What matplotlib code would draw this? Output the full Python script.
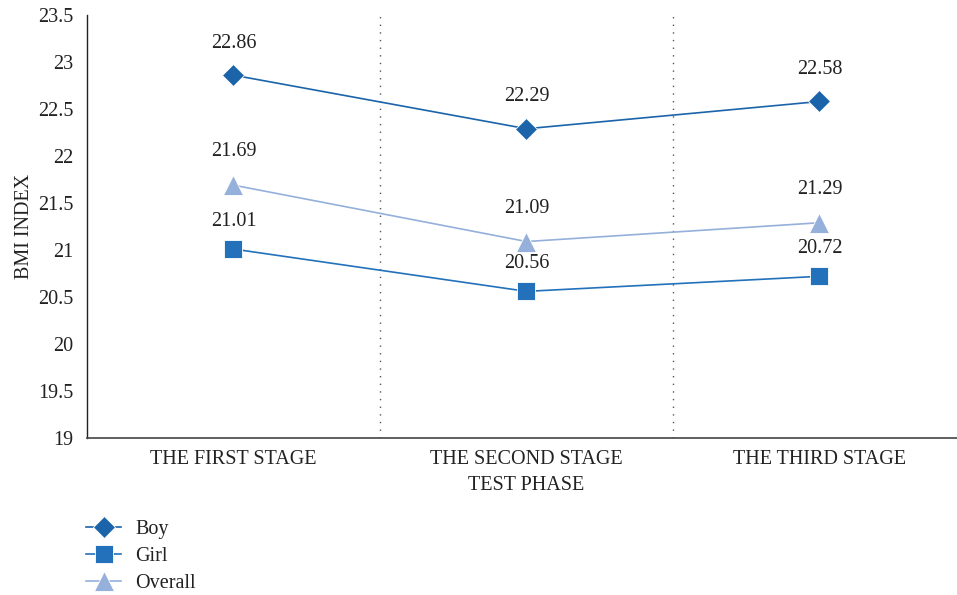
"""
BMI index of boys, girls and overall across the three test stages.
"""

import matplotlib.pyplot as plt
from matplotlib.lines import Line2D

stages = ["THE FIRST STAGE", "THE SECOND STAGE", "THE THIRD STAGE"]
boy = [22.86, 22.29, 22.58]
girl = [21.01, 20.56, 20.72]
overall = [21.69, 21.09, 21.29]

y_ticks = [19, 19.5, 20, 20.5, 21, 21.5, 22, 22.5, 23, 23.5]
y_tick_labels = ["19", "19.5", "20", "20.5", "21", "21.5", "22", "22.5", "23", "23.5"]


def main():
    plt.rcParams["font.family"] = ["Liberation Serif", "DejaVu Serif"]
    fs = 14.5

    fig = plt.figure(figsize=(9.57, 5.95), dpi=100)
    ax = fig.add_axes([87 / 957, 1 - 438 / 595, (966 - 87) / 957, (438 - 15) / 595])

    # name, values, colour, marker, marker size, label offset (pt)
    series = [
        ("Boy", boy, "#1b64aa", "D", 11, 23),
        ("Girl", girl, "#2371bb", "s", 13, 20),
        ("Overall", overall, "#95b0da", "^", 14, 24),
    ]
    x = list(range(len(stages)))
    handles = []
    for name, values, color, marker, size, off in series:
        ax.plot(x, values, color=color, linewidth=1.2, marker=marker,
                markersize=size, markeredgecolor="white", markeredgewidth=0.6,
                zorder=3)
        for xi, v in zip(x, values):
            ax.annotate(f"{v:.2f}", (xi, v), xytext=(0, off), textcoords="offset points",
                        ha="center", va="center", fontsize=fs, color="#222222")
        handles.append(Line2D([0], [0], color=color, linewidth=1.2, marker=marker,
                              markersize=size, markeredgecolor="white",
                              markeredgewidth=0.6, label=name))

    # dotted separators between stages
    for sep in [0.5, 1.5]:
        ax.axvline(sep, ymin=0, ymax=1, color="#555555", linestyle=(0, (1, 4.5)),
                   linewidth=1.0)

    ax.set_xlim(-0.5, 2.5)
    ax.set_ylim(19, 23.5)
    ax.set_yticks(y_ticks)
    ax.set_yticklabels(y_tick_labels)
    ax.set_xticks(x)
    ax.set_xticklabels(stages)
    ax.tick_params(axis="both", length=0, labelsize=fs, colors="#222222")
    ax.tick_params(axis="x", pad=9)
    ax.tick_params(axis="y", pad=10)

    for side in ["top", "right"]:
        ax.spines[side].set_visible(False)
    ax.spines["left"].set_color("#222222")
    ax.spines["bottom"].set_color("#444444")
    ax.spines["left"].set_linewidth(1.0)
    ax.spines["bottom"].set_linewidth(1.2)

    ax.set_ylabel("BMI INDEX", fontsize=fs, color="#222222", labelpad=3)
    fig.text(526 / 957, 1 - 486 / 595, "TEST PHASE", ha="center", va="center",
             fontsize=fs, color="#222222")

    fig.legend(handles=handles, loc="upper left", bbox_to_anchor=(86 / 957, 1 - 520 / 595),
               frameon=False, fontsize=fs, handlelength=1.75, handletextpad=0.7,
               labelspacing=0.4, borderaxespad=0, borderpad=0, labelcolor="#222222")

    fig.savefig("out.png", dpi=100)


if __name__ == "__main__":
    main()
